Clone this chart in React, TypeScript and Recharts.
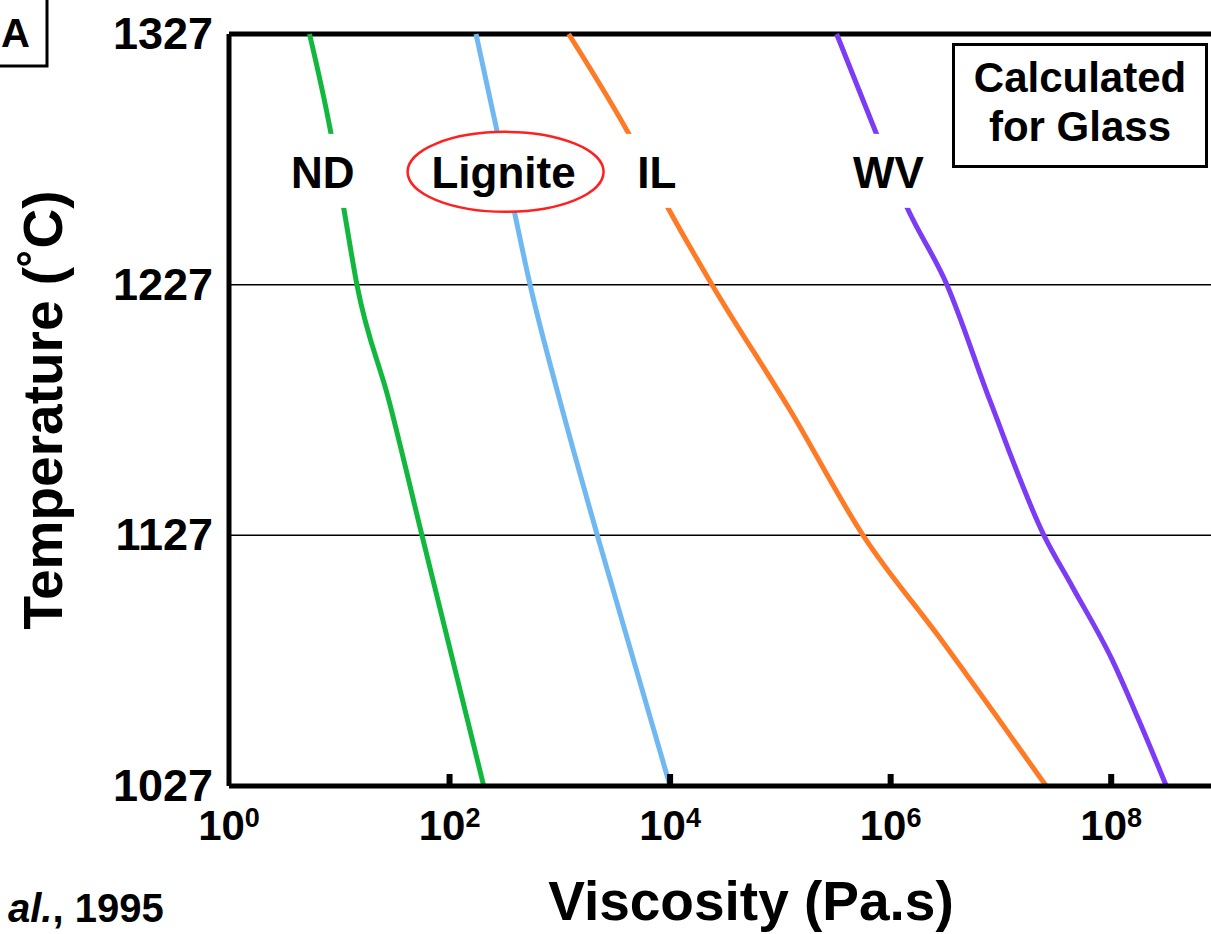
import { ComposedChart, Line, Scatter, XAxis, YAxis, ReferenceLine } from 'recharts'

const FONT = '"Liberation Sans", Arial, sans-serif'

// log10 of viscosity (Pa.s) vs temperature (°C)
const ndPoints = [
  { L: 0.73, T: 1327 }, { L: 0.92, T: 1288.4 }, { L: 1.04, T: 1257.7 },
  { L: 1.16, T: 1227 }, { L: 1.45, T: 1180.8 }, { L: 1.75, T: 1127 }, { L: 2.31, T: 1027 },
]
const lignitePoints = [
  { L: 2.24, T: 1327 }, { L: 2.43, T: 1288.4 }, { L: 2.58, T: 1257.7 },
  { L: 2.73, T: 1227 }, { L: 3.0, T: 1180.8 }, { L: 3.34, T: 1127 }, { L: 4.0, T: 1027 },
]
const ilPoints = [
  { L: 3.08, T: 1327 }, { L: 3.61, T: 1288.4 }, { L: 3.98, T: 1257.7 }, { L: 4.38, T: 1227 },
  { L: 5.09, T: 1176.8 }, { L: 5.75, T: 1127 }, { L: 6.44, T: 1086.4 }, { L: 7.41, T: 1027 },
]
const wvPoints = [
  { L: 5.51, T: 1327 }, { L: 5.86, T: 1288.4 }, { L: 6.15, T: 1257.7 }, { L: 6.51, T: 1227 },
  { L: 6.9, T: 1180.8 }, { L: 7.39, T: 1127 }, { L: 7.65, T: 1106.3 }, { L: 8.01, T: 1077.2 },
  { L: 8.25, T: 1053.3 }, { L: 8.5, T: 1027 },
]

// curve name tags sitting on the lines
const curveLabels = [
  { L: 0.85, T: 1272, text: 'ND', w: 72, ring: false },
  { L: 2.49, T: 1272, text: 'Lignite', w: 0, ring: true },
  { L: 3.88, T: 1272, text: 'IL', w: 72, ring: false },
  { L: 5.98, T: 1272, text: 'WV', w: 92, ring: false },
]

const xTicks = [0, 2, 4, 6, 8]
const yTicks = [1027, 1127, 1227, 1327]
const gridTemps = [1127, 1227]

const XTick = ({ x, y, payload }: any) => (
  <g>
    {payload.value > 0 && <rect x={x - 3} y={y - 12} width={6} height={12} fill="#000" />}
    <text x={x} y={y + 54} textAnchor="middle" fontFamily={FONT} fontWeight="bold" fontSize={42} fill="#000">
      10<tspan fontSize={27} dy={-13}>{payload.value}</tspan>
    </text>
  </g>
)

const YTick = ({ x, y, payload }: any) => (
  <text x={x} y={y + 15} textAnchor="end" fontFamily={FONT} fontWeight="bold" fontSize={45} fill="#000">
    {payload.value}
  </text>
)

const CurveTag = ({ cx, cy, payload }: any) => (
  <g>
    {payload.ring ? (
      <ellipse cx={cx + 2} cy={cy} rx={98} ry={40} fill="#fff" stroke="#ff2020" strokeWidth={2.5} />
    ) : (
      <rect x={cx - payload.w / 2} y={cy - 38} width={payload.w} height={74} fill="#fff" />
    )}
    <text x={cx} y={cy + 16} textAnchor="middle" fontFamily={FONT} fontWeight="bold" fontSize={44} fill="#000">
      {payload.text}
    </text>
  </g>
)

export default function App() {
  return (
    <div style={{ position: 'absolute', left: 0, top: 0, width: 1211, height: 934, background: '#fff' }}>
      <ComposedChart width={1211} height={934} margin={{ top: 34, right: 0, left: 0, bottom: 0 }}>
        <XAxis
          type="number"
          dataKey="L"
          domain={[0, 8.905]}
          ticks={xTicks}
          interval={0}
          allowDataOverflow
          tick={<XTick />}
          tickSize={0}
          tickMargin={0}
          tickLine={false}
          axisLine={{ stroke: '#000', strokeWidth: 5 }}
          height={148}
          label={{
            content: ({ viewBox }: any) => (
              <text x={viewBox.x + viewBox.width / 2 + 31} y={920} textAnchor="middle"
                fontFamily={FONT} fontWeight="bold" fontSize={55} fill="#000">
                Viscosity (Pa.s)
              </text>
            ),
          }}
        />
        <YAxis
          type="number"
          dataKey="T"
          domain={[1027, 1327]}
          ticks={yTicks}
          interval={0}
          tick={<YTick />}
          tickSize={0}
          tickMargin={16}
          tickLine={false}
          axisLine={{ stroke: '#000', strokeWidth: 5 }}
          width={229}
          label={{
            content: ({ viewBox }: any) => {
              const cy = viewBox.y + viewBox.height / 2
              return (
                <text x={62} y={cy} transform={`rotate(-90, 62, ${cy})`} textAnchor="middle"
                  fontFamily={FONT} fontWeight="bold" fontSize={55} fill="#000">
                  Temperature (˚C)
                </text>
              )
            },
          }}
        />

        {gridTemps.map(t => (
          <ReferenceLine key={t} y={t} stroke="#000" strokeWidth={1.5} />
        ))}
        <ReferenceLine y={1327} stroke="#000" strokeWidth={5} />

        <Line data={ndPoints} dataKey="T" type="monotone" stroke="#12b83e" strokeWidth={5} dot={false} isAnimationActive={false} />
        <Line data={lignitePoints} dataKey="T" type="monotone" stroke="#6fb8f2" strokeWidth={5} dot={false} isAnimationActive={false} />
        <Line data={ilPoints} dataKey="T" type="monotone" stroke="#ff7a24" strokeWidth={5} dot={false} isAnimationActive={false} />
        <Line data={wvPoints} dataKey="T" type="monotone" stroke="#7c3cf5" strokeWidth={5} dot={false} isAnimationActive={false} />

        <Scatter data={curveLabels} dataKey="T" shape={<CurveTag />} isAnimationActive={false} />
      </ComposedChart>

      <svg width={1211} height={934} style={{ position: 'absolute', left: 0, top: 0, pointerEvents: 'none' }}>
        <rect x={-60} y={-10} width={107} height={76} fill="none" stroke="#000" strokeWidth={3} />
        <text x={1} y={47} fontFamily={FONT} fontWeight="bold" fontSize={40} fill="#000">A</text>

        <rect x={953.5} y={44.5} width={253} height={122} fill="#fff" stroke="#000" strokeWidth={3} />
        <text x={1080} y={92} textAnchor="middle" fontFamily={FONT} fontWeight="bold" fontSize={42} fill="#000">Calculated</text>
        <text x={1080} y={141} textAnchor="middle" fontFamily={FONT} fontWeight="bold" fontSize={42} fill="#000">for Glass</text>

        <text x={8} y={922} fontFamily={FONT} fontWeight="bold" fontSize={40} fill="#000">
          <tspan fontStyle="italic">al.</tspan>, 1995
        </text>
      </svg>
    </div>
  )
}
